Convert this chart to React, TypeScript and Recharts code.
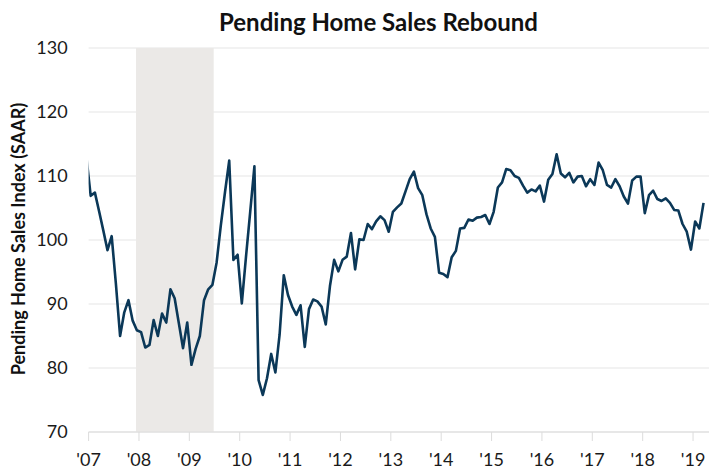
import { CartesianGrid, Line, LineChart, ReferenceArea, XAxis, YAxis } from 'recharts';

// page has an 8px default margin; the picture is taken from the top-left corner
document.body.style.margin = '0';

// Pending Home Sales Index (SAAR), monthly, Dec 2006 .. Mar 2019
const firstMonth = '2006-12';
const v2006 = [112.8];
const v2007 = [106.9, 107.4, 104.5, 101.5, 98.4, 100.6, 93.2, 85.0, 88.7, 90.6, 87.4, 85.9];
const v2008 = [85.6, 83.2, 83.6, 87.5, 85.0, 88.5, 87.1, 92.3, 90.9, 87.0, 83.1, 87.1];
const v2009 = [80.5, 83.0, 85.0, 90.6, 92.3, 93.0, 96.5, 102.3, 107.5, 112.4, 96.9, 97.7];
const v2010 = [90.1, 97.4, 104.4, 111.5, 78.1, 75.8, 78.4, 82.2, 79.3, 85.2, 94.5, 91.4];
const v2011 = [89.6, 88.3, 89.8, 83.3, 89.2, 90.7, 90.4, 89.6, 86.8, 92.8, 96.9, 95.1];
const v2012 = [96.9, 97.4, 101.1, 95.4, 100.1, 100.0, 102.5, 101.7, 102.9, 103.7, 103.1, 101.3];
const v2013 = [104.4, 105.1, 105.7, 107.6, 109.5, 110.7, 108.1, 107.0, 104.0, 101.8, 100.5, 94.9];
const v2014 = [94.7, 94.2, 97.3, 98.3, 101.8, 101.9, 103.2, 103.0, 103.5, 103.6, 103.9, 102.5];
const v2015 = [104.4, 108.2, 109.0, 111.1, 110.9, 110.0, 109.7, 108.5, 107.4, 107.9, 107.6, 108.5];
const v2016 = [106.0, 109.4, 110.3, 113.4, 110.4, 109.8, 110.5, 109.0, 109.9, 110.0, 108.4, 109.5];
const v2017 = [108.6, 112.1, 110.9, 108.6, 108.2, 109.5, 108.4, 106.8, 105.7, 109.3, 109.9, 109.9];
const v2018 = [104.2, 107.0, 107.7, 106.4, 106.1, 106.5, 105.8, 104.7, 104.6, 102.5, 101.3, 98.5];
const v2019 = [102.9, 101.8, 105.8];

const yearLabels = ["'07", "'08", "'09", "'10", "'11", "'12", "'13", "'14", "'15", "'16", "'17", "'18", "'19"];
const yTicks = [70, 80, 90, 100, 110, 120, 130];

// recession (NBER): Dec 2007 - Jun 2009
const recessionStart = '2007-12';
const recessionEnd = '2009-06';

const values = [
  ...v2006, ...v2007, ...v2008, ...v2009, ...v2010, ...v2011, ...v2012,
  ...v2013, ...v2014, ...v2015, ...v2016, ...v2017, ...v2018, ...v2019,
];

function monthIndex(ym: string) {
  const [y0, m0] = firstMonth.split('-').map(Number);
  const [y, m] = ym.split('-').map(Number);
  return (y - y0) * 12 + (m - m0);
}

const data = values.map((v, i) => ({ t: i, v }));

// year ticks sit on the boundary between December and January
const xTicks = yearLabels.map((_, i) => monthIndex(`${2007 + i}-01`) - 0.5);
const tickLabel = (t: number) => yearLabels[Math.round((t + 0.5 - monthIndex('2007-01')) / 12)] ?? '';

const FONT = 'Lato, "Noto Sans", sans-serif';
const LINE = '#0b3858';

export default function App() {
  return (
    <div style={{ position: 'relative', width: 709, height: 471, background: '#fff', fontFamily: FONT }}>
      <div
        style={{
          position: 'absolute',
          left: 48,
          width: 661,
          top: 6,
          textAlign: 'center',
          fontSize: 24,
          fontWeight: 700,
          color: '#111',
          lineHeight: '32px',
        }}
      >
        Pending Home Sales Rebound
      </div>
      <div
        style={{
          position: 'absolute',
          left: 18,
          top: 239,
          transform: 'translate(-50%, -50%) rotate(-90deg)',
          whiteSpace: 'nowrap',
          fontSize: 18,
          fontWeight: 700,
          color: '#111',
        }}
      >
        Pending Home Sales Index (SAAR)
      </div>
      <LineChart width={709} height={471} data={data} margin={{ top: 48, right: 0, bottom: 0, left: 0 }}>
        <CartesianGrid vertical={false} stroke='#e6e6e6' strokeWidth={1.2} />
        <ReferenceArea
          x1={monthIndex(recessionStart) - 0.2}
          x2={monthIndex(recessionEnd) + 0.3}
          y1={70}
          y2={130}
          fill='#ebe9e7'
          fillOpacity={1}
          stroke='none'
          ifOverflow='hidden'
        />
        <XAxis
          dataKey='t'
          type='number'
          domain={[0.5, 148.3]}
          allowDataOverflow
          ticks={xTicks}
          tickFormatter={tickLabel}
          interval={0}
          height={39}
          axisLine={{ stroke: '#dcdcdc' }}
          tickLine={{ stroke: '#dcdcdc' }}
          tickSize={9}
          tickMargin={12}
          tick={{ fill: '#1a1a1a', fontSize: 18, fontFamily: FONT }}
        />
        <YAxis
          type='number'
          domain={[70, 130]}
          ticks={yTicks}
          width={88.6}
          axisLine={false}
          tickLine={false}
          tickSize={0}
          tickMargin={21}
          tick={{ fill: '#1a1a1a', fontSize: 18, fontFamily: FONT }}
        />
        <Line
          type='linear'
          dataKey='v'
          stroke={LINE}
          strokeWidth={2.6}
          dot={false}
          isAnimationActive={false}
          strokeLinejoin='round'
        />
      </LineChart>
    </div>
  );
}
